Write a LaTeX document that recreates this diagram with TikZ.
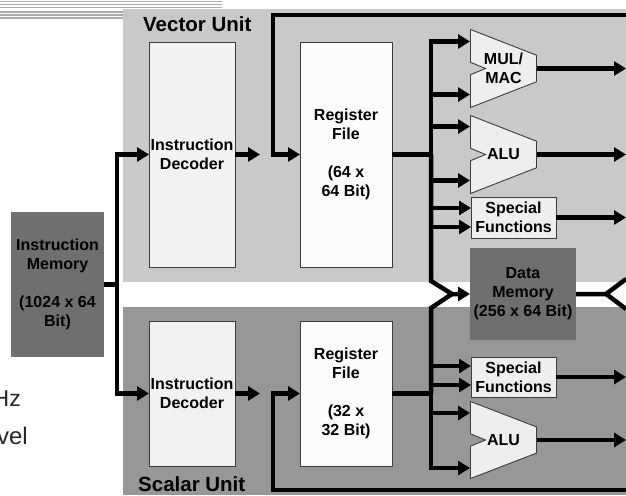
\documentclass[tikz,border=0pt]{standalone}
\usepackage{fontspec}
\setmainfont{Liberation Sans}
\usepackage{tikz}
\usetikzlibrary{arrows.meta, positioning, calc}
\definecolor{vecgray}{RGB}{201,201,201}
\definecolor{scagray}{RGB}{151,151,151}
\definecolor{memgray}{RGB}{111,111,111}
\definecolor{decfill}{RGB}{242,242,242}
\definecolor{regfill}{RGB}{252,252,252}
\definecolor{fufill}{RGB}{238,238,238}
\definecolor{edgegray}{RGB}{60,60,60}
\definecolor{stripe}{RGB}{170,170,170}
\newcommand{\blocklabel}{\fontsize{16}{19}\selectfont\bfseries}
\tikzset{
  wire/.style={draw=black, line width=4.5pt},
  arrow/.style={wire, -{Triangle[length=12pt,width=14pt]}},
  block/.style={rectangle, draw=edgegray, line width=0.9pt, inner sep=0pt, outer sep=0pt, align=center, font=\blocklabel},
  decbox/.style={block, fill=decfill, minimum width=86pt, minimum height=225pt},
  regbox/.style={block, fill=regfill, minimum width=92pt, minimum height=225pt},
  sfbox/.style={block, fill=fufill, minimum width=85pt, minimum height=41pt},
  membox/.style={rectangle, fill=memgray, inner sep=0pt, outer sep=0pt, align=center, font=\blocklabel},
  aluedge/.style={draw=edgegray, line width=0.9pt, fill=fufill},
  alu/.style={rectangle, inner sep=0pt, outer sep=0pt, minimum width=67pt, minimum height=79pt, align=center, font=\blocklabel,
    path picture={
      \coordinate (pnw) at ([shift={(.5pt,-.5pt)}]path picture bounding box.north west);
      \coordinate (pse) at ([shift={(-.5pt,.5pt)}]path picture bounding box.south east);
      \draw[aluedge] (pnw) -- ($(pnw -| pse)!.33!(pse)$) -- ($(pnw -| pse)!.67!(pse)$) -- (pnw |- pse)
        -- ($(pnw)!.58!(pnw |- pse)$) -- ([xshift=15pt]$(pnw)!.5!(pnw |- pse)$) -- ($(pnw)!.42!(pnw |- pse)$) -- cycle;
    }},
  unitlabel/.style={font=\fontsize{20.5}{24}\selectfont\bfseries, inner sep=0pt, anchor=base west},
  slidetext/.style={text=black!85, inner sep=0pt, anchor=base east}
}

\begin{document}
\begin{tikzpicture}[x=1pt, y=-1pt, node distance=65pt]
  \useasboundingbox (0,0) rectangle (626,495);
  \foreach \y in {1.5,4.5,7.5,12,15,18}
    \draw[stripe, line width=1.6pt] (0,\y) -- (222,\y);
  \fill[vecgray] (123,9) rectangle (626,282);
  \fill[scagray] (123,307) rectangle (626,495);

  \node[unitlabel] (vlabel) at (143,32) {Vector Unit};
  \node[unitlabel] (slabel) at (138,491) {Scalar Unit};
  \node[slidetext, font=\fontsize{23}{27}\selectfont] (hz) at (21,406) {Hz};
  \node[slidetext, font=\fontsize{24}{28}\selectfont] (lvl) at (28,444) {vel};

  \node[membox, minimum width=93pt, minimum height=145pt] (imem) at (57.5,284.5) {Instruction\\Memory\\[19pt](1024 x 64\\Bit)};
  \node[decbox] (vdec) at (192,154.5) {Instruction\\Decoder};
  \node[regbox, right=of vdec] (vreg) {Register\\File\\[19pt](64 x\\64 Bit)};
  \node[decbox, minimum height=145pt] (sdec) at (192,393.5) {Instruction\\Decoder};
  \node[regbox, minimum height=145pt, right=of sdec] (sreg) {Register\\File\\[19pt](32 x\\32 Bit)};
  \node[membox, minimum width=106pt, minimum height=92pt] (dmem) at (523,294) {Data\\Memory\\(256 x 64 Bit)};
  \node[alu] (mac) at (503.5,68.5) {MUL/\\MAC};
  \node[alu, below=7pt of mac] (valu) {ALU};
  \node[sfbox] (vsf) at (513.5,217.5) {Special\\Functions};
  \node[sfbox, minimum height=40pt] (ssf) at (513.5,377) {Special\\Functions};
  \node[alu, minimum height=78pt] (salu) at (503.5,440) {ALU};

  \coordinate (redge) at (626,0);
  \coordinate (vfb) at (626,15);
  \coordinate (sfb) at (626,490);
  \coordinate (vdecout) at ([xshift=25pt]vdec.east);
  \coordinate (sdecout) at ([xshift=25pt]sdec.east);
  \coordinate (vbus) at ([xshift=39pt]vreg.east);
  \coordinate (sbus) at ([xshift=39pt]sreg.east);
  \coordinate (dmin) at ([xshift=-18pt]dmem.west);

  \draw[arrow] (imem.east) -- ++(13pt,0) |- (vdec.west);
  \draw[arrow] (imem.east) -- ++(13pt,0) |- (sdec.west);
  \draw[arrow] (vdec.east) -- (vdecout);
  \draw[arrow] (sdec.east) -- (sdecout);
  \draw[arrow] (vfb) -| ([xshift=-27pt]vreg.west) -- (vreg.west);
  \draw[arrow] (sfb) -| ([xshift=-27pt]sreg.west) -- (sreg.west);

  \draw[arrow] (vreg.east) -- (vbus) |- ([yshift=27pt]mac.west);
  \foreach \u/\s in {mac/-26, valu/28, valu/-26, vsf/9.5, vsf/-9.5}
    \draw[arrow] ([yshift=\s pt]\u.west -| vbus) -- ([yshift=\s pt]\u.west);
  \draw[arrow] (sreg.east) -- (sbus) |- ([yshift=-28pt]salu.west);
  \foreach \u/\s in {ssf/11, ssf/-8, salu/27}
    \draw[arrow] ([yshift=\s pt]\u.west -| sbus) -- ([yshift=\s pt]\u.west);

  \draw[arrow] (vbus) -- ([yshift=13pt]dmin -| vbus) -- (dmin) -- (dmem.west);
  \draw[wire] (sbus) -- ([yshift=-14pt]dmin -| sbus) -- (dmin);
  \draw[wire] (dmem.east) -- ++(30pt,0) coordinate (dmout) -- ++(20pt,15pt);
  \draw[wire] (dmout) -- ++(20pt,-15pt);

  \foreach \u in {mac,valu,vsf,ssf,salu}
    \draw[arrow] (\u.east) -- (\u.east -| redge);
\end{tikzpicture}
\end{document}
